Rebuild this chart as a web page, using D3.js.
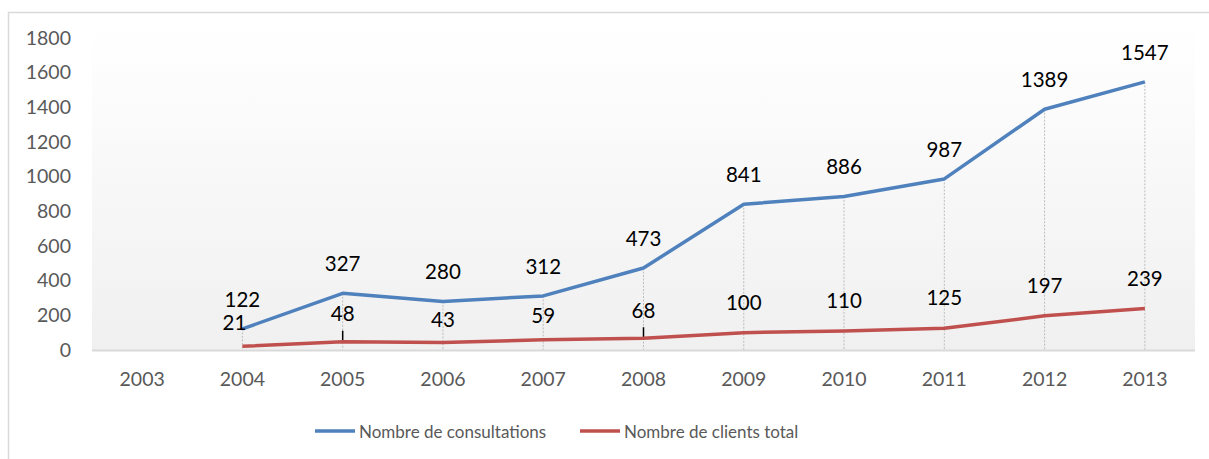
<!DOCTYPE html>
<html><head><meta charset="utf-8">
<script src="https://cdn.jsdelivr.net/npm/d3@7"></script>
<style>body{margin:0;background:#fff}svg{display:block}</style>
</head><body>
<svg id="c" width="1209" height="459"></svg>
<script>
const years = ["2003","2004","2005","2006","2007","2008","2009","2010","2011","2012","2013"];
const consultations = [null,122,327,280,312,473,841,886,987,1389,1547];
const clients = [null,21,48,43,59,68,100,110,125,197,239];
const yTicks = [0,200,400,600,800,1000,1200,1400,1600,1800];
const seriesNames = ["Nombre de consultations","Nombre de clients total"];
const colors = ["#4F81BD","#C0504D"];

const svg = d3.select("#c");
const font = "Lato, 'Open Sans', sans-serif";
const m = {left:92,right:1195,top:38,bottom:350};

// frame
svg.append("rect").attr("x",8.5).attr("y",12.5).attr("width",1220).attr("height",480)
  .attr("fill","#fff").attr("stroke","#d9d9d9").attr("stroke-width",1.5);

const defs = svg.append("defs");
const g = defs.append("linearGradient").attr("id","bg").attr("x1",0).attr("x2",0).attr("y1",0).attr("y2",1);
g.append("stop").attr("offset","0%").attr("stop-color","#ffffff");
g.append("stop").attr("offset","100%").attr("stop-color","#f0f0f0");

const x = d3.scaleBand().domain(years).range([m.left,m.right]).padding(0);
const y = d3.scaleLinear().domain([0,1800]).range([m.bottom,m.top]);
const cx = d => x(d)+x.bandwidth()/2;

svg.append("rect").attr("x",m.left).attr("y",y(1800)-14).attr("width",m.right-m.left).attr("height",m.bottom-y(1800)+14)
  .attr("fill","url(#bg)");

// drop lines
const pts = years.map((yr,i)=>({yr,a:consultations[i],b:clients[i]})).filter(d=>d.a!=null);
svg.append("g").selectAll("line").data(pts).join("line")
  .attr("x1",d=>cx(d.yr)).attr("x2",d=>cx(d.yr))
  .attr("y1",d=>y(Math.max(d.a,d.b))).attr("y2",m.bottom)
  .attr("stroke","#bdbdbd").attr("stroke-width",1).attr("stroke-dasharray","2,1.5");

// axis line
svg.append("line").attr("x1",m.left).attr("x2",m.right).attr("y1",m.bottom+0.5).attr("y2",m.bottom+0.5)
  .attr("stroke","#d9d9d9").attr("stroke-width",2);

// y axis
const ya = svg.append("g").attr("transform",`translate(${m.left},0)`)
  .call(d3.axisLeft(y).tickValues(yTicks).tickSize(0).tickPadding(21).tickFormat(d3.format("d")));
ya.select(".domain").remove();
ya.selectAll("text").attr("font-family",font).attr("font-size",19.5).attr("fill","#595959");

// x axis
const xa = svg.append("g").attr("transform",`translate(0,${m.bottom})`)
  .call(d3.axisBottom(x).tickSize(0).tickPadding(22));
xa.select(".domain").remove();
xa.selectAll("text").attr("font-family",font).attr("font-size",19.5).attr("fill","#595959");

// leader lines (data label connectors)
[["2005",clients[2]],["2008",clients[5]]].forEach(([yr,v])=>{
  svg.append("line").attr("x1",cx(yr)).attr("x2",cx(yr)).attr("y1",y(v)-11).attr("y2",y(v))
    .attr("stroke","#000").attr("stroke-width",1.5);
});

// label placement (layout only)
const redLift = {"2004":16,"2006":16,"2007":17,"2005":21,"2008":20};
const redShift = {"2004":-8};

const line = d3.line().defined(d=>d.v!=null).x(d=>cx(d.yr)).y(d=>y(d.v));
[consultations,clients].forEach((arr,si)=>{
  const data = years.map((yr,i)=>({yr,v:arr[i]}));
  svg.append("path").datum(data).attr("d",line).attr("fill","none")
    .attr("stroke",colors[si]).attr("stroke-width",3.5).attr("stroke-linejoin","round");
  svg.append("g").selectAll("text").data(data.filter(d=>d.v!=null)).join("text")
    .attr("x",d=>cx(d.yr)+(si===1?(redShift[d.yr]||0):0))
    .attr("y",d=>y(d.v)-(si===0?22:(redLift[d.yr]||23)))
    .attr("text-anchor","middle").attr("font-family",font).attr("font-size",20.5).attr("fill","#000")
    .text(d=>d.v);
});

// legend
const lg = svg.append("g");
const lx = [315,580];
seriesNames.forEach((n,i)=>{
  lg.append("line").attr("x1",lx[i]).attr("x2",lx[i]+40).attr("y1",431).attr("y2",431)
    .attr("stroke",colors[i]).attr("stroke-width",3.5);
  lg.append("text").attr("x",lx[i]+44).attr("y",437.5).attr("font-family",font).attr("font-size",17)
    .attr("fill","#595959").text(n);
});
</script>
</body></html>
